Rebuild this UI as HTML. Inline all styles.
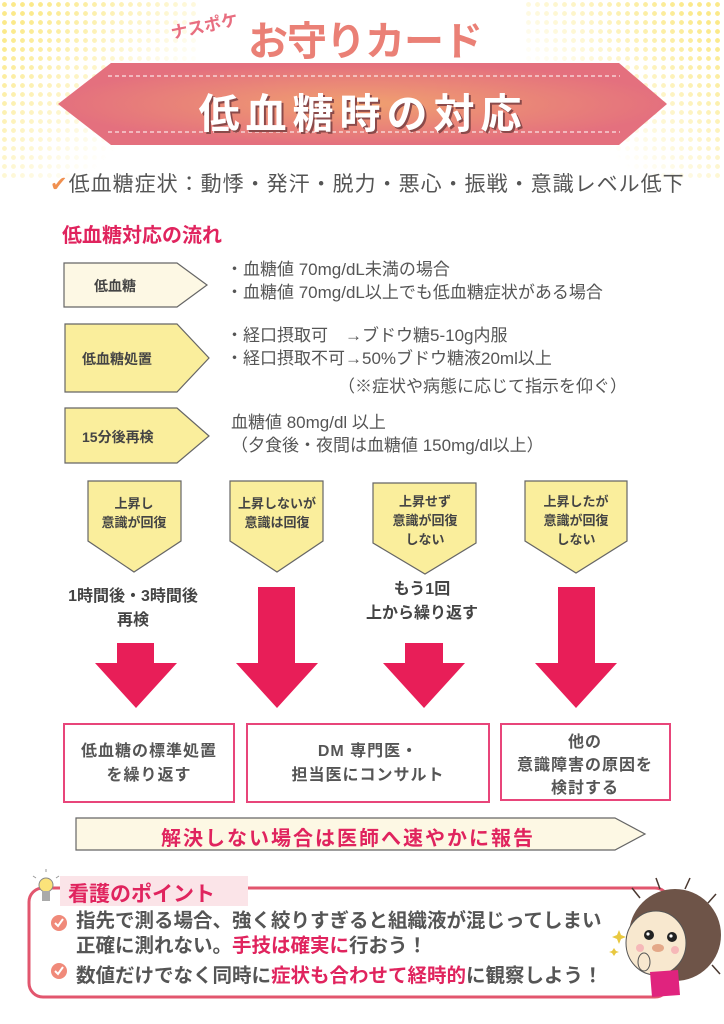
<!DOCTYPE html>
<html><head><meta charset="utf-8">
<style>
*{margin:0;padding:0;box-sizing:border-box}
body{width:724px;height:1024px;position:relative;overflow:hidden;background:#fff;font-family:"Liberation Sans","Noto Sans CJK JP",sans-serif;color:#555}
.t{position:absolute;white-space:nowrap}
.c{text-align:center;transform:translateX(-50%)}
.dots{position:absolute;top:0;width:200px;height:180px;background-image:radial-gradient(circle,#fbe98a 2.2px,transparent 2.6px);background-size:9px 9px}
</style></head><body>
<div class="dots" style="left:0;-webkit-mask-image:linear-gradient(135deg,#000 10%,transparent 70%);mask-image:linear-gradient(135deg,#000 10%,transparent 70%)"></div>
<div class="dots" style="right:0;-webkit-mask-image:linear-gradient(225deg,#000 10%,transparent 70%);mask-image:linear-gradient(225deg,#000 10%,transparent 70%)"></div>

<svg width="724" height="1024" style="position:absolute;left:0;top:0">
<defs>
<radialGradient id="rg" cx="0.5" cy="0.5" r="0.5">
<stop offset="0" stop-color="#f0a070"/><stop offset="1" stop-color="#e4707e"/></radialGradient>
</defs>
<polygon points="58,104 111,63 619,63 667,104 619,145 111,145" fill="url(#rg)"/>
<line x1="108" y1="76" x2="620" y2="76" stroke="#fff" stroke-dasharray="4,3" stroke-width="1"/>
<line x1="108" y1="132" x2="620" y2="132" stroke="#fff" stroke-dasharray="4,3" stroke-width="1"/>
<polygon points="64,263 177,263 207,285 177,307 64,307" fill="#fdf8e4" stroke="#666" stroke-width="1.2"/>
<polygon points="65,324 177,324 209,358 177,392 65,392" fill="#faee9c" stroke="#666" stroke-width="1.2"/>
<polygon points="65,408 177,408 209,436 177,463 65,463" fill="#faee9c" stroke="#666" stroke-width="1.2"/>
<polygon points="88,481 181,481 181,541 134,572 88,541" fill="#faee9c" stroke="#666" stroke-width="1.2"/>
<polygon points="230,481 323,481 323,541 277,572 230,541" fill="#faee9c" stroke="#666" stroke-width="1.2"/>
<polygon points="373,483 476,483 476,543 425,574 373,543" fill="#faee9c" stroke="#666" stroke-width="1.2"/>
<polygon points="525,481 627,481 627,541 576,573 525,541" fill="#faee9c" stroke="#666" stroke-width="1.2"/>
<g fill="#e81e58">
<polygon points="117,643 154,643 154,663 177,663 136,708 95,663 117,663"/>
<polygon points="258,587 295,587 295,663 318,663 277,708 236,663 258,663"/>
<polygon points="405,643 443,643 443,663 465,663 424,708 383,663 405,663"/>
<polygon points="558,587 595,587 595,663 617,663 576,708 535,663 558,663"/>
</g>
<g fill="#fff" stroke="#e8457a" stroke-width="2">
<rect x="64" y="724" width="170" height="78"/>
<rect x="247" y="724" width="242" height="78"/>
<rect x="501" y="724" width="169" height="76"/>
</g>
<polygon points="76,818 615,818 645,834 615,850 76,850" fill="#fdf8e4" stroke="#666" stroke-width="1.2"/>
<rect x="29" y="888" width="640" height="109" rx="14" fill="#fff" stroke="#e2566e" stroke-width="3"/>
<rect x="60" y="876" width="188" height="30" fill="#fbe4e8"/>
<circle cx="46" cy="885" r="7" fill="#fbe37a" stroke="#888" stroke-width="1"/>
<rect x="42" y="891" width="8" height="10" fill="#aaa"/>
<g stroke="#999" stroke-width="1"><line x1="46" y1="872" x2="46" y2="869"/><line x1="36" y1="878" x2="33" y2="876"/><line x1="56" y1="878" x2="59" y2="876"/></g>
<g fill="#f08a7a"><circle cx="59" cy="923" r="8"/><circle cx="59" cy="971" r="8"/></g>
<g stroke="#fff" stroke-width="2" fill="none"><polyline points="55,923 58,926 63,919"/><polyline points="55,971 58,974 63,967"/></g>
<g>
<circle cx="675" cy="935" r="46" fill="#6e5448"/>
<g stroke="#4a3830" stroke-width="1.5">
<line x1="640" y1="898" x2="632" y2="888"/><line x1="660" y1="889" x2="656" y2="878"/><line x1="685" y1="889" x2="690" y2="878"/><line x1="708" y1="903" x2="716" y2="894"/><line x1="712" y1="965" x2="720" y2="974"/>
</g>
<ellipse cx="656" cy="943" rx="30" ry="32" fill="#f8e8cf" stroke="#555" stroke-width="1"/>
<circle cx="649" cy="935" r="5" fill="#222"/><circle cx="672" cy="937" r="5" fill="#222"/>
<circle cx="648" cy="934" r="1.6" fill="#fff"/><circle cx="671" cy="936" r="1.6" fill="#fff"/>
<ellipse cx="658" cy="948" rx="6" ry="4" fill="#e4a888"/>
<circle cx="640" cy="948" r="4" fill="#f6b8b8"/><circle cx="675" cy="950" r="4" fill="#f6b8b8"/>
<path d="M650,972 L678,970 L680,995 L652,997 Z" fill="#e0237e"/>
<ellipse cx="644" cy="962" rx="6" ry="9" fill="#f8e8cf" stroke="#555" stroke-width="1"/>
</g>
<g fill="#e8c840"><polygon points="619,930 621,935 626,937 621,939 619,944 617,939 612,937 617,935"/><polygon points="614,948 616,951 619,952 616,953 614,956 612,953 609,952 612,951"/></g>
</svg>

<div class="t" style="left:170px;top:12px;font-size:17px;font-weight:bold;color:#e86e80;transform:rotate(-12deg)">ナスポケ</div>
<div class="t" style="left:248px;top:14px;font-size:40px;line-height:56px;font-weight:bold;color:#ea8076;letter-spacing:-1px;z-index:2">お守りカード</div>
<div class="t c" style="left:363px;top:80px;font-size:41px;font-weight:bold;color:#fff;letter-spacing:6px;text-shadow:2px 2px 0 #8a4a4a">低血糖時の対応</div>
<div class="t" style="left:50px;top:168px;font-size:21px;letter-spacing:1px;color:#555"><span style="color:#f09050">✔</span>低血糖症状：動悸・発汗・脱力・悪心・振戦・意識レベル低下</div>
<div class="t" style="left:62px;top:219px;font-size:20px;font-weight:bold;color:#e0245e">低血糖対応の流れ</div>

<div class="t" style="left:94px;top:276px;font-size:14px;font-weight:bold;color:#444">低血糖</div>
<div class="t" style="left:226px;top:258px;font-size:17px;line-height:23px">・血糖値 70mg/dL未満の場合<br>・血糖値 70mg/dL以上でも低血糖症状がある場合</div>
<div class="t" style="left:82px;top:349px;font-size:14px;font-weight:bold;color:#444">低血糖処置</div>
<div class="t" style="left:226px;top:324px;font-size:17px;line-height:23px">・経口摂取可　→ブドウ糖5-10g内服<br>・経口摂取不可→50%ブドウ糖液20ml以上</div>
<div class="t" style="left:338px;top:372px;font-size:17px">（※症状や病態に応じて指示を仰ぐ）</div>
<div class="t" style="left:82px;top:427px;font-size:14px;font-weight:bold;color:#444">15分後再検</div>
<div class="t" style="left:231px;top:411px;font-size:17px;line-height:23px">血糖値 80mg/dl 以上<br>（夕食後・夜間は血糖値 150mg/dl以上）</div>

<div class="t c" style="left:134px;top:494px;font-size:13px;font-weight:bold;line-height:19px;color:#444;text-align:center">上昇し<br>意識が回復</div>
<div class="t c" style="left:277px;top:494px;font-size:13px;font-weight:bold;line-height:19px;color:#444;text-align:center">上昇しないが<br>意識は回復</div>
<div class="t c" style="left:425px;top:492px;font-size:13px;font-weight:bold;line-height:19px;color:#444;text-align:center">上昇せず<br>意識が回復<br>しない</div>
<div class="t c" style="left:576px;top:492px;font-size:13px;font-weight:bold;line-height:19px;color:#444;text-align:center">上昇したが<br>意識が回復<br>しない</div>

<div class="t c" style="left:133px;top:585px;font-size:16px;font-weight:bold;line-height:24px;color:#444;text-align:center">1時間後・3時間後<br>再検</div>
<div class="t c" style="left:422px;top:578px;font-size:16px;font-weight:bold;line-height:24px;color:#444;text-align:center">もう1回<br>上から繰り返す</div>

<div class="t c" style="left:149px;top:740px;font-size:16px;font-weight:bold;line-height:24px;color:#555;text-align:center;letter-spacing:1px">低血糖の標準処置<br>を繰り返す</div>
<div class="t c" style="left:368px;top:740px;font-size:16px;font-weight:bold;line-height:24px;color:#555;text-align:center;letter-spacing:1px">DM 専門医・<br>担当医にコンサルト</div>
<div class="t c" style="left:585px;top:731px;font-size:16px;font-weight:bold;line-height:23px;color:#555;text-align:center;letter-spacing:1px">他の<br>意識障害の原因を<br>検討する</div>

<div class="t c" style="left:348px;top:822px;font-size:20px;font-weight:bold;color:#e0245e;letter-spacing:2px">解決しない場合は医師へ速やかに報告</div>

<div class="t" style="left:68px;top:878px;font-size:21px;font-weight:bold;color:#e0245e">看護のポイント</div>
<div class="t" style="left:76px;top:909px;font-size:19.5px;font-weight:bold;line-height:25px;color:#555">指先で測る場合、強く絞りすぎると組織液が混じってしまい<br>正確に測れない。<span style="color:#e0245e">手技は確実に</span>行おう！</div>
<div class="t" style="left:76px;top:959px;font-size:19.5px;font-weight:bold;color:#555">数値だけでなく同時に<span style="color:#e0245e">症状も合わせて経時的</span>に観察しよう！</div>
</body></html>
